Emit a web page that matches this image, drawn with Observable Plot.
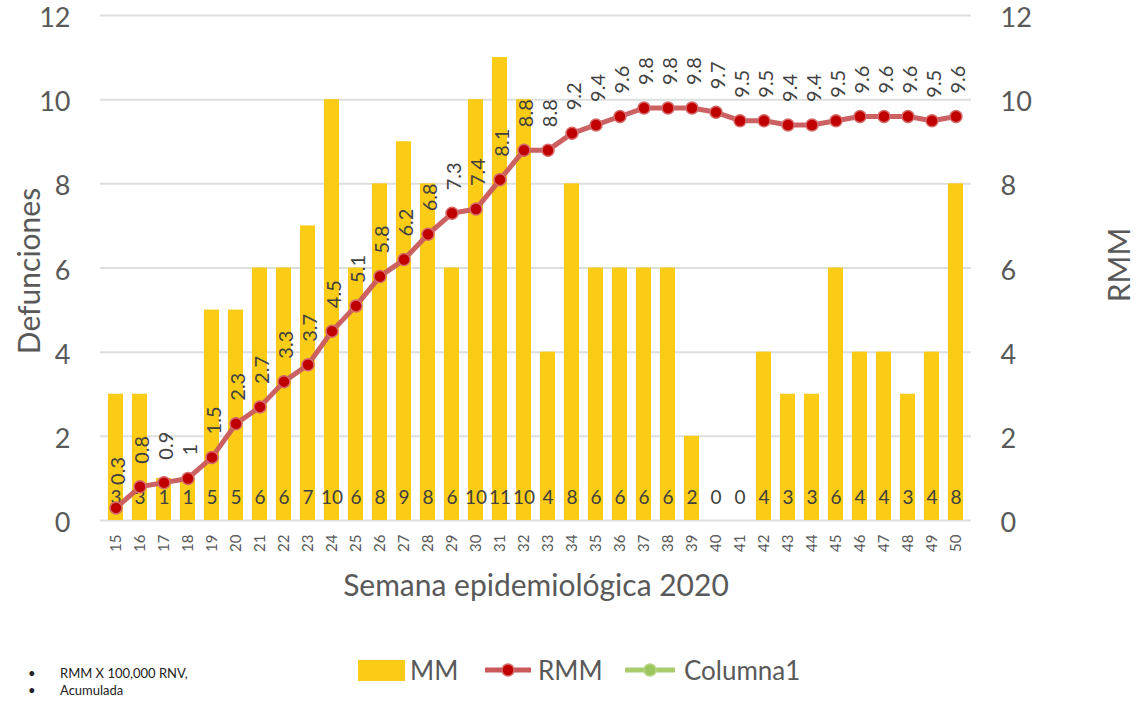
<!DOCTYPE html>
<html>
<head>
<meta charset="utf-8">
<script src="https://cdn.jsdelivr.net/npm/d3@7"></script>
<script src="https://cdn.jsdelivr.net/npm/@observablehq/plot@0.6"></script>
<style>
  body { margin: 0; background: #fff; font-family: Lato, "Open Sans", sans-serif; }
  #wrap { position: relative; width: 1136px; height: 702px; overflow: hidden; }
  #legend { position: absolute; left: 0; top: 620px; width: 1136px; height: 82px; }
  .lg { position: absolute; }
  .lt { position: absolute; font-size: 26px; color: #595959; line-height: 26px; }
  .fn { position: absolute; font-size: 13px; color: #222; line-height: 14px; }
</style>
</head>
<body>
<div id="wrap">
  <div id="chart"></div>
  <div id="legend">
    <div class="fn" style="left:28px; top:46px;">•</div>
    <div class="fn" style="left:60px; top:46px;">RMM X 100,000 RNV,</div>
    <div class="fn" style="left:28px; top:63px;">•</div>
    <div class="fn" style="left:60px; top:63px;">Acumulada</div>

    <svg class="lg" style="left:355px; top:38px;" width="52" height="24"><rect x="3" y="2" width="47" height="21" fill="#FACC15"/></svg>
    <div class="lt" style="left:410px; top:37px;">MM</div>

    <svg class="lg" style="left:482px; top:38px;" width="52" height="24"><line x1="3" y1="12" x2="49" y2="12" stroke="#C9595B" stroke-width="5"/><circle cx="26" cy="12" r="6" fill="#C00000" stroke="#D46A6A" stroke-width="1.5"/></svg>
    <div class="lt" style="left:538px; top:37px;">RMM</div>

    <svg class="lg" style="left:622px; top:38px;" width="56" height="24"><line x1="3" y1="12" x2="53" y2="12" stroke="#A9CD6E" stroke-width="5"/><circle cx="28" cy="12" r="6" fill="#9BC55F" stroke="#B5D57F" stroke-width="1.5"/></svg>
    <div class="lt" style="left:684px; top:37px;">Columna1</div>
  </div>
</div>
<script>
const weeks = [15,16,17,18,19,20,21,22,23,24,25,26,27,28,29,30,31,32,33,34,35,36,37,38,39,40,41,42,43,44,45,46,47,48,49,50];
const mm = [3,3,1,1,5,5,6,6,7,10,6,8,9,8,6,10,11,10,4,8,6,6,6,6,2,0,0,4,3,3,6,4,4,3,4,8];
const rmm = [0.3,0.8,0.9,1,1.5,2.3,2.7,3.3,3.7,4.5,5.1,5.8,6.2,6.8,7.3,7.4,8.1,8.8,8.8,9.2,9.4,9.6,9.8,9.8,9.8,9.7,9.5,9.5,9.4,9.4,9.5,9.6,9.6,9.6,9.5,9.6];
const yTicks = [0,2,4,6,8,10,12];
const yLabel = "Defunciones";
const y2Label = "RMM";
const xLabel = "Semana epidemiológica 2020";

const data = weeks.map((w, i) => ({week: w, mm: mm[i], rmm: rmm[i]}));

const chart = Plot.plot({
  width: 1136,
  height: 620,
  marginTop: 15,
  marginBottom: 100,
  marginLeft: 100,
  marginRight: 165,
  style: {fontFamily: "Lato, 'Open Sans', sans-serif", color: "#595959", background: "white", overflow: "visible"},
  x: {type: "band", domain: weeks, paddingInner: 0.38, paddingOuter: 0.13},
  y: {domain: [0, 12]},
  marks: [
    Plot.gridY(yTicks, {stroke: "#dedede", strokeWidth: 2, strokeOpacity: 1}),
    Plot.barY(data, {x: "week", y: "mm", fill: "#FACC15"}),
    Plot.text(data, {x: "week", y: 0, text: d => String(d.mm), dy: -23, fontSize: 19, fill: "#404040"}),
    Plot.line(data, {x: "week", y: "rmm", stroke: "#C9595B", strokeWidth: 5, strokeOpacity: 0.95}),
    Plot.dot(data, {x: "week", y: "rmm", r: 6, fill: "#C00000", stroke: "#D46A6A", strokeWidth: 1.5}),
    Plot.text(data, {x: "week", y: "rmm", text: d => String(d.rmm), rotate: -90, textAnchor: "start", dy: -23, dx: 3, fontSize: 20, fill: "#404040"}),
    Plot.axisY(yTicks, {anchor: "left", tickSize: 0, tickPadding: 30, fontSize: 27, dy: 3, label: null, fill: "#595959"}),
    Plot.axisY(yTicks, {anchor: "right", tickSize: 0, tickPadding: 29, fontSize: 27, dy: 3, label: null, fill: "#595959"}),
    Plot.axisX({tickRotate: -90, tickSize: 0, tickPadding: 14, fontSize: 15, label: null, fill: "#595959"}),
    Plot.text([yLabel], {text: d => d, frameAnchor: "left", textAnchor: "middle", lineAnchor: "middle", rotate: -90, dx: -70, dy: 3, fontSize: 30, fill: "#595959"}),
    Plot.text([y2Label], {text: d => d, frameAnchor: "right", textAnchor: "middle", lineAnchor: "middle", rotate: -90, dx: 149, dy: -3, fontSize: 30, fill: "#595959"}),
    Plot.text([xLabel], {text: d => d, frameAnchor: "bottom", textAnchor: "middle", lineAnchor: "middle", dy: 66, fontSize: 30, fill: "#595959"})
  ]
});
document.getElementById("chart").appendChild(chart);
</script>
</body>
</html>
